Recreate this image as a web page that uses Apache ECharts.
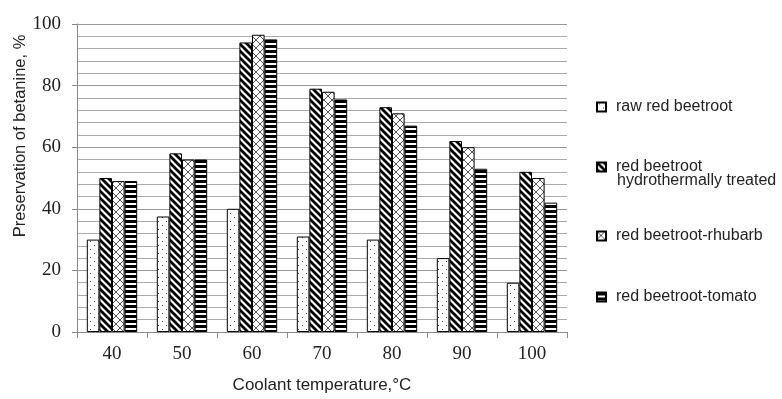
<!DOCTYPE html>
<html><head><meta charset="utf-8">
<script src="https://cdn.jsdelivr.net/npm/echarts@6/dist/echarts.min.js"></script>
<style>html,body{margin:0;padding:0;background:#fff}#c{width:782px;height:399px}</style>
</head><body><div id="c"></div>
<script>
const categories = ['40','50','60','70','80','90','100'];
const seriesNames = ['raw red beetroot','red beetroot','red beetroot-rhubarb','red beetroot-tomato'];
const rawValues = [30, 37.5, 40, 31, 30, 24, 16];
const hydroValues = [50, 58, 94, 79, 73, 62, 52];
const rhubarbValues = [49, 56, 96.5, 78, 71, 60, 50];
const tomatoValues = [49, 56, 95, 75.5, 67, 53, 42];
const yTicks = [0, 20, 40, 60, 80, 100];

function tile(w, h, draw) {
  const c = document.createElement('canvas');
  c.width = w; c.height = h;
  const g = c.getContext('2d');
  g.fillStyle = '#fff'; g.fillRect(0, 0, w, h);
  draw(g);
  return { image: c, repeat: 'repeat' };
}
const dots = tile(8, 8, g => { g.fillStyle = '#444'; g.fillRect(2, 1, 1, 1); g.fillRect(6, 5, 1, 1); });
const diag = tile(7, 7, g => {
  g.strokeStyle = '#000'; g.lineWidth = 2.8;
  g.beginPath(); g.moveTo(-7, -7); g.lineTo(14, 14); g.moveTo(-7, 0); g.lineTo(7, 14); g.moveTo(0, -7); g.lineTo(14, 7); g.stroke();
});
const cross = tile(8, 8, g => {
  g.strokeStyle = '#555'; g.lineWidth = 1;
  g.beginPath(); g.moveTo(0, 0); g.lineTo(8, 8); g.moveTo(8, 0); g.lineTo(0, 8); g.stroke();
});
const horiz = tile(4, 5, g => { g.fillStyle = '#000'; g.fillRect(0, 0, 4, 3); });
const patterns = [dots, diag, cross, horiz];
const dataSets = [rawValues, hydroValues, rhubarbValues, tomatoValues];

const legendTops = [94, 154, 223, 284];
const font = 'Liberation Sans';
const txtColor = '#222';

const chart = echarts.init(document.getElementById('c'), null, { renderer: 'canvas' });
chart.setOption({
  animation: false,
  backgroundColor: '#fff',
  grid: { left: 77, right: 215, top: 24, bottom: 63 },
  legend: seriesNames.map((n, i) => ({
    data: [n], orient: 'vertical', left: 591, top: legendTops[i],
    itemWidth: 9, itemHeight: 9, icon: 'rect', itemGap: 0,
    textStyle: { fontFamily: font, fontSize: 16, color: txtColor, padding: [0, 0, 0, 5] },
    selectedMode: false
  })),
  graphic: [
    { type: 'text', left: 617, top: 173,
      style: { text: 'hydrothermally treated', font: '16px "Liberation Sans"', fill: txtColor } },
    { type: 'text', x: 20, y: 136, rotation: Math.PI / 2,
      style: { text: 'Preservation of betanine, %', font: '16.5px "Liberation Sans"', fill: txtColor,
        align: 'center', verticalAlign: 'middle' } }
  ],
  xAxis: {
    type: 'category', data: categories,
    name: 'Coolant temperature,°C', nameLocation: 'middle', nameGap: 45,
    nameTextStyle: { fontFamily: font, fontSize: 17, color: txtColor },
    axisLine: { lineStyle: { color: '#888' } },
    axisTick: { show: true, length: 6, lineStyle: { color: '#888' } },
    axisLabel: { fontFamily: 'Liberation Serif', fontSize: 19, color: txtColor, margin: 13 }
  },
  yAxis: {
    type: 'value', min: 0, max: 100, interval: 20,
    axisLine: { show: true, lineStyle: { color: '#888' } },
    axisTick: { show: true, length: 5, lineStyle: { color: '#888' } },
    axisLabel: { fontFamily: 'Liberation Serif', fontSize: 19, color: txtColor, margin: 16,
      formatter: v => yTicks.includes(v) ? String(v) : '' },
    splitLine: { show: true, lineStyle: { color: '#999', width: 1 } },
    minorTick: { show: false, splitNumber: 5 },
    minorSplitLine: { show: true, lineStyle: { color: '#aaa', width: 1 } }
  },
  series: seriesNames.map((n, i) => ({
    name: n, type: 'bar', data: dataSets[i],
    barGap: '0%', barCategoryGap: '28%',
    itemStyle: { color: patterns[i], borderColor: '#000', borderWidth: 1 }
  }))
});
</script></body></html>
